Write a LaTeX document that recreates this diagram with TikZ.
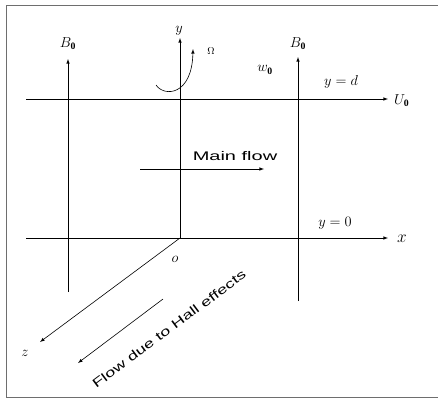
\documentclass[tikz,border=0pt]{standalone}
\usepackage{fontspec}
\setmainfont{Liberation Serif}
\setsansfont{Liberation Sans}
\usepackage{tikz}
\usetikzlibrary{arrows,positioning,calc}
\definecolor{framegray}{RGB}{110,110,110}
\tikzset{
  axisline/.style={line width=0.6pt,black},
  axisarrow/.style={axisline,-latex},
  mathlabel/.style={font=\fontsize{14}{16}\selectfont,inner sep=1pt},
  flowtext/.style={font=\sffamily\fontsize{12.5}{14}\selectfont,inner sep=0pt}
}

\begin{document}
\begin{tikzpicture}[x=1pt,y=-1pt]
    \useasboundingbox (0,0) rectangle (438,399);
    % frame, open on the right
    \draw[framegray,line width=1pt] (440,5) -- (6,5) -- (6,397) -- (440,397);

    % upper plate y=d
    \coordinate (topL) at (26,99);
    \coordinate (topR) at (388,99);
    \draw[axisarrow] (topL) -- (topR);
    \node[mathlabel,anchor=west] (Uzero) at (393,101) {$U_{\mathbf{0}}$};
    \node[mathlabel] (ydlab) at (341,82) {$y=d$};
    \node[mathlabel] (wzero) at (265,70) {$w_{\mathbf{0}}$};

    % lower plate y=0 and x-axis
    \coordinate (botL) at (26,238);
    \coordinate (botR) at (388,238);
    \draw[axisarrow] (botL) -- (botR);
    \node[mathlabel,anchor=west,font=\fontsize{17}{19}\selectfont] (xlab) at (396,239) {$x$};
    \node[mathlabel] (y0lab) at (335,223) {$y=0$};

    % origin, y-axis and z-axis
    \coordinate (O) at (180,238);
    \coordinate (ytip) at (180,38);
    \coordinate (ztip) at (40,342);
    \draw[axisarrow] (O) -- (ytip);
    \draw[axisarrow] (O) -- (ztip);
    \node[mathlabel] (ylab) at (179,31) {$y$};
    \node[mathlabel] (olab) at (175,259) {$o$};
    \node[mathlabel] (zlab) at (25,353) {$z$};

    % magnetic field B_0
    \coordinate (BlBot) at (68,292);
    \coordinate (BlTop) at (68,59);
    \coordinate (BrBot) at (298,301);
    \coordinate (BrTop) at (298,57);
    \draw[axisarrow] (BlBot) -- (BlTop);
    \draw[axisarrow] (BrBot) -- (BrTop);
    \node[mathlabel] (Bleft) at (68,44) {$B_{\mathbf{0}}$};
    \node[mathlabel] (Bright) at (298,44) {$B_{\mathbf{0}}$};

    % rotation Omega
    \coordinate (omStart) at (156,85);
    \coordinate (omTip) at (193,49);
    \draw[axisarrow] (omStart) .. controls (164,97) and (192,96) .. (omTip);
    \node[font=\normalsize,inner sep=1pt] (omlab) at (211,51) {$\Omega$};

    % main flow
    \coordinate (mfL) at (140,169);
    \coordinate (mfR) at (264,169);
    \draw[axisarrow] (mfL) -- (mfR);
    \node[flowtext,xscale=1.6] (mainflow) at (235,156) {Main flow};

    % flow due to Hall effects
    \coordinate (hfS) at (163,299);
    \coordinate (hfE) at (78,363);
    \draw[axisarrow] (hfS) -- (hfE);
    \node[flowtext,rotate=36.8,xscale=1.45] (hallflow) at (169,329) {Flow due to Hall effects};
\end{tikzpicture}
\end{document}
